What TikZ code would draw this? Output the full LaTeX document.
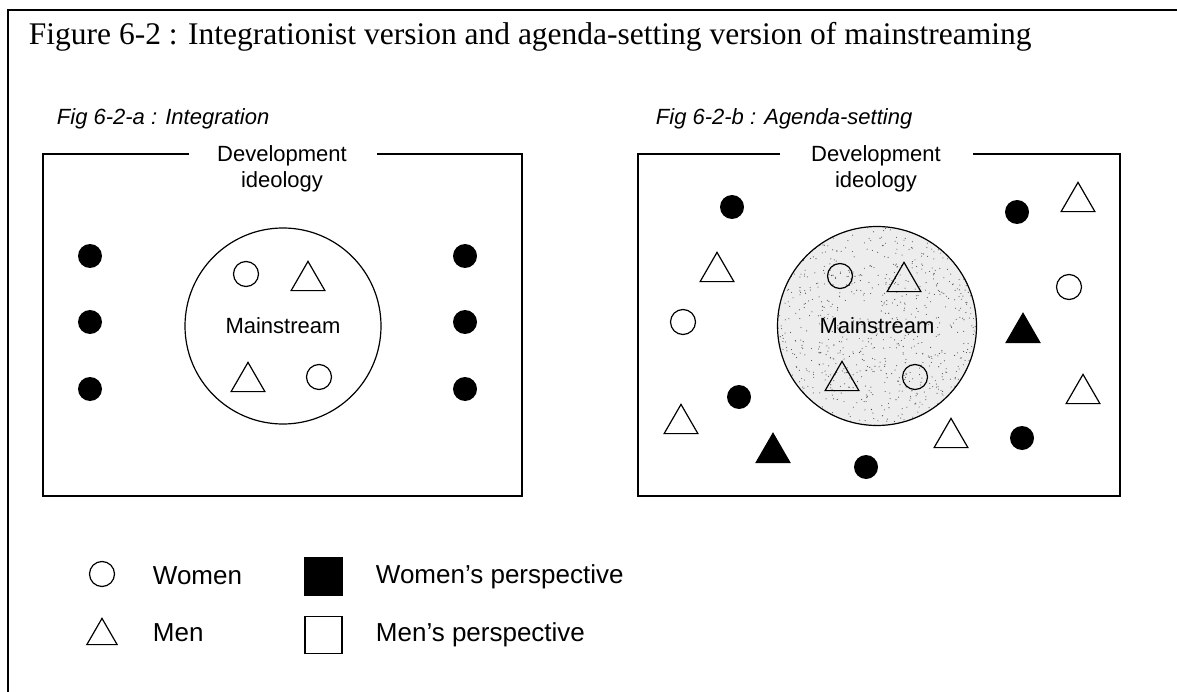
\documentclass[tikz,border=0pt]{standalone}
\usepackage{fontspec}
\setmainfont{Liberation Serif}
\setsansfont{Liberation Sans}
\usetikzlibrary{shapes.geometric}
\tikzset{
  woman/.style={circle,draw,inner sep=0pt,minimum size=25pt},
  man/.style={regular polygon,regular polygon sides=3,draw,inner sep=0pt,
    minimum size=#1,yshift={-#1/8}},
  man/.default=39pt,
  wdot/.style={circle,fill,inner sep=0pt,minimum size=24pt},
  wtri/.style={man,fill},
  txt/.style={font=\sffamily\fontsize{22}{26}\selectfont,align=center},
  figcap/.style={anchor=west,font=\sffamily\itshape\fontsize{22}{26}\selectfont},
  keytext/.style={anchor=west,font=\sffamily\fontsize{26}{30}\selectfont}
}
\begin{document}
\begin{tikzpicture}[x=1pt,y=-1pt,line width=1.2pt]
  \useasboundingbox (0,0) rectangle (1177,692);
  \draw[line width=1.4pt] (1177,10) -- (8,10) -- (8,692);
  \node[anchor=base west,font=\fontsize{31.5}{36}\selectfont] (title) at (25,45)
    {Figure 6-2 : Integrationist version and agenda-setting version of mainstreaming};
  % integration
  \node[figcap] (capA) at (53,119) {Fig 6-2-a : Integration};
  \draw (189,154) -- (43,154) -- (43,496) -- (522,496) -- (522,154) -- (377,154);
  \node[txt] (ideoA) at (282,169) {Development\\ideology};
  \node[txt,circle,draw,inner sep=0pt,minimum size=196pt] (mainA) at (283,326) {Mainstream};
  \node[woman] (wA1) at (246,274) {};
  \node[man] (mA1) at (308,276) {};
  \node[man] (mA2) at (248,377) {};
  \node[woman] (wA2) at (319,377) {};
  \node[wdot] (dA1) at (90,256) {};
  \node[wdot] (dA2) at (90,322) {};
  \node[wdot] (dA3) at (90,389) {};
  \node[wdot] (dA4) at (465,256) {};
  \node[wdot] (dA5) at (465,322) {};
  \node[wdot] (dA6) at (465,389) {};
  % agenda-setting
  \node[figcap] (capB) at (652,119) {Fig 6-2-b : Agenda-setting};
  \draw (780,154) -- (638,154) -- (638,496) -- (1120,496) -- (1120,154) -- (973,154);
  \node[txt] (ideoB) at (876,169) {Development\\ideology};
  \node[txt,circle,draw,inner sep=0pt,minimum size=199pt,fill=black!7,
    path picture={\pgfmathsetseed{11}
      \foreach \i in {1,...,900}
        \fill[black!70] (path picture bounding box.center) ++(rand*100,rand*100)
          circle[radius=0.55pt];}] (mainB) at (877,326) {Mainstream};
  \node[woman] (wB1) at (840,276) {};
  \node[man] (mB1) at (904,277) {};
  \node[man] (mB2) at (842,376) {};
  \node[woman] (wB2) at (915,377) {};
  \node[wdot] (dB1) at (732,207) {};
  \node[man] (mB3) at (717,267) {};
  \node[woman] (wB3) at (683,322) {};
  \node[wdot] (dB2) at (739,397) {};
  \node[man] (mB4) at (681,419) {};
  \node[wtri] (tB1) at (773,448) {};
  \node[wdot] (dB3) at (866,467) {};
  \node[man] (mB5) at (951,433) {};
  \node[wdot] (dB4) at (1022,438) {};
  \node[wtri] (tB2) at (1023,328) {};
  \node[woman] (wB4) at (1069,287) {};
  \node[man] (mB6) at (1083,389) {};
  \node[wdot] (dB5) at (1017,212) {};
  \node[man] (mB7) at (1078,197) {};
  % key
  \node[woman] (kW) at (102,574) {};
  \node[keytext] (kWt) at (149,576) {Women};
  \node[man=35pt] (kM) at (102,631.5) {};
  \node[keytext] (kMt) at (149,633) {Men};
  \node[draw,fill,inner sep=0pt,minimum size=37pt] (kWP) at (323.5,576.5) {};
  \node[keytext] (kWPt) at (372,577) {Women's perspective};
  \node[draw,inner sep=0pt,minimum size=37pt] (kMP) at (323.5,635) {};
  \node[keytext] (kMPt) at (372,635) {Men's perspective};
\end{tikzpicture}
\end{document}
